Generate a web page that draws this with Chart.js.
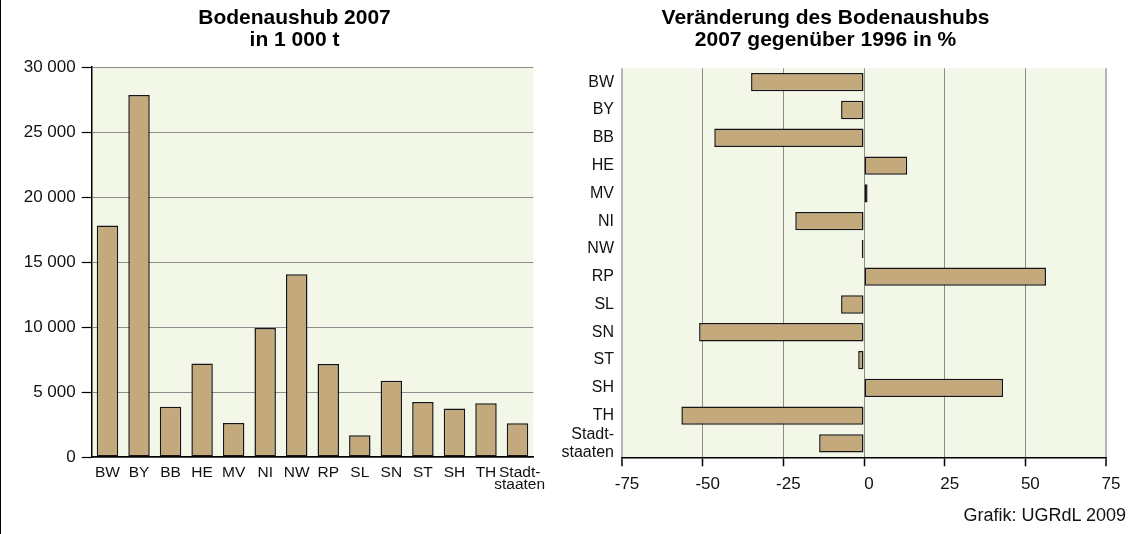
<!DOCTYPE html>
<html>
<head>
<meta charset="utf-8">
<script src="https://cdn.jsdelivr.net/npm/chart.js@4"></script>
<style>
html,body{margin:0;padding:0;background:#fff;}
body{width:1133px;height:534px;position:relative;overflow:hidden;font-family:'Liberation Sans',Arial,sans-serif;}
#c1{position:absolute;left:0;top:0;}
#c2{position:absolute;left:545px;top:0;}
#edge{position:absolute;left:0;top:0;width:1px;height:534px;background:#000;}
#credit{position:absolute;right:7px;top:506px;font-size:18px;line-height:18px;color:#111;white-space:nowrap;}
</style>
</head>
<body>
<canvas id="c1" width="589" height="534"></canvas>
<canvas id="c2" width="588" height="534"></canvas>
<div id="edge"></div>
<div id="credit">Grafik: UGRdL 2009</div>
<script>
// ---- data ----
const categories = ['BW','BY','BB','HE','MV','NI','NW','RP','SL','SN','ST','SH','TH',['Stadt-','staaten']];
const categoriesBottom = ['BW','BY','BB','HE','MV','NI','NW','RP','SL','SN','ST','SH','TH',[' Stadt-',' staaten']];
const aushub2007 = [17800, 27850, 3870, 7200, 2620, 9920, 14050, 7150, 1670, 5870, 4230, 3740, 4130, 2600];
const veraenderung = [-35.0, -7.1, -46.4, 13.4, 1.1, -21.3, -0.7, 56.4, -7.1, -51.1, -1.8, 43.1, -56.6, -13.9];
const leftTicks = [0, 5000, 10000, 15000, 20000, 25000, 30000];
const rightTicks = [-75, -50, -25, 0, 25, 50, 75];
const titleLeft = ['Bodenaushub 2007', 'in 1 000 t'];
const titleRight = ['Veränderung des Bodenaushubs', '2007 gegenüber 1996 in %'];

// ---- styles ----
const BAR = '#c4a97d';
const BAR_BORDER = '#151515';
const BG = '#f3f7e8';
const GRID = '#8c8c8c';
const EDGE = '#b4b4b4';

Chart.defaults.font.family = "'Liberation Sans', Arial, sans-serif";
Chart.defaults.color = '#111';

const plotBg = {
  id: 'plotBg',
  beforeDraw(chart, args, opts) {
    const {ctx, chartArea: a} = chart;
    ctx.save();
    ctx.fillStyle = opts.color;
    ctx.fillRect(a.left, a.top, a.right - a.left, a.bottom - a.top);
    ctx.restore();
  }
};
const fmt = v => String(v).replace(/\B(?=(\d{3})+(?!\d))/g, ' ');

new Chart(document.getElementById('c1'), {
  type: 'bar',
  data: {
    labels: categoriesBottom,
    datasets: [{
      data: aushub2007,
      backgroundColor: BAR,
      borderColor: BAR_BORDER,
      borderWidth: 1.5,
      borderSkipped: false,
      barPercentage: 0.68,
      categoryPercentage: 1
    }]
  },
  options: {
    responsive: false,
    animation: false,
    layout: {padding: {left: 0, right: 0, top: 0, bottom: 0}},
    plugins: {
      legend: {display: false},
      tooltip: {enabled: false},
      title: {display: true, text: titleLeft, color: '#000',
        font: {size: 21, weight: 'bold', lineHeight: '22px'},
        padding: {top: 7.4, bottom: 15.6}},
      plotBg: {color: BG}
    },
    scales: {
      x: {
        grid: {display: false, drawTicks: false},
        border: {display: true, color: '#000', width: 1.5},
        ticks: {color: '#111', font: {size: 15.5, lineHeight: 0.78}, padding: 9.5, maxRotation: 0, autoSkip: false},
        afterFit: s => { s.height = 77; }
      },
      y: {
        min: 0, max: 30000,
        afterBuildTicks: s => { s.ticks = leftTicks.map(v => ({value: v})); },
        grid: {color: GRID, lineWidth: 1, tickColor: '#000', tickLength: 10, tickWidth: 1.2},
        border: {display: true, color: '#000', width: 1.5},
        ticks: {color: '#111', font: {size: 17}, padding: 6, callback: v => fmt(v)},
        afterFit: s => { s.width = 91.7; }
      },
      spacer: {
        type: 'linear',
        position: 'right',
        display: true,
        grid: {display: false, drawTicks: false},
        border: {display: false},
        ticks: {display: false},
        afterFit: s => { s.width = 55.7; }
      }
    }
  },
  plugins: [plotBg]
});

new Chart(document.getElementById('c2'), {
  type: 'bar',
  data: {
    labels: categories,
    datasets: [{
      data: veraenderung,
      backgroundColor: BAR,
      borderColor: BAR_BORDER,
      borderWidth: 1.5,
      borderSkipped: false,
      barPercentage: 0.66,
      categoryPercentage: 1
    }]
  },
  options: {
    indexAxis: 'y',
    responsive: false,
    animation: false,
    layout: {padding: {left: 0, right: 27, top: 0, bottom: 0}},
    plugins: {
      legend: {display: false},
      tooltip: {enabled: false},
      title: {display: true, text: titleRight, color: '#000',
        font: {size: 21, weight: 'bold', lineHeight: '22px'},
        padding: {top: 7.4, bottom: 16.9}},
      plotBg: {color: BG}
    },
    scales: {
      x: {
        min: -75, max: 75,
        afterBuildTicks: s => { s.ticks = rightTicks.map(v => ({value: v})); },
        grid: {
          color: c => (c.tick && Math.abs(c.tick.value) === 75) ? EDGE : GRID,
          lineWidth: c => (c.tick && Math.abs(c.tick.value) === 75) ? 2 : 1,
          tickColor: '#000', tickLength: 9, tickWidth: 1.5
        },
        border: {display: true, color: '#000', width: 1.5},
        ticks: {color: '#111', font: {size: 17, lineHeight: 1}, padding: 9.2, labelOffset: 5},
        afterFit: s => { s.height = 76.7; }
      },
      y: {
        grid: {display: false, drawTicks: false},
        border: {display: false},
        ticks: {color: '#111', font: {size: 16, lineHeight: 1.125}, padding: 8, autoSkip: false},
        afterFit: s => { s.width = 77; }
      }
    }
  },
  plugins: [plotBg]
});
</script>
</body>
</html>
